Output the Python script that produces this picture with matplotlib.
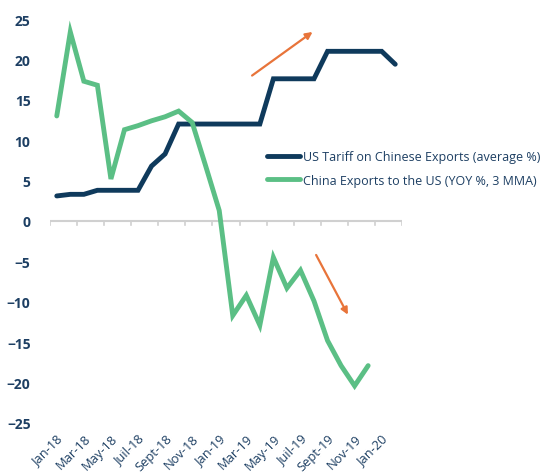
import matplotlib
matplotlib.use("Agg")
from matplotlib import pyplot as plt
import numpy as np

months = ["Jan-18", "Feb-18", "Mar-18", "Apr-18", "May-18", "Jun-18", "Juil-18", "Aug-18",
          "Sept-18", "Oct-18", "Nov-18", "Dec-18", "Jan-19", "Feb-19", "Mar-19", "Apr-19",
          "May-19", "Jun-19", "Juil-19", "Aug-19", "Sept-19", "Oct-19", "Nov-19", "Dec-19",
          "Jan-20", "Feb-20"]
tariff = [3.1, 3.3, 3.3, 3.8, 3.8, 3.8, 3.8, 6.8, 8.3, 12.0, 12.0, 12.0, 12.0, 12.0, 12.0, 12.0,
          17.6, 17.6, 17.6, 17.6, 21.0, 21.0, 21.0, 21.0, 21.0, 19.4]
exports = [13.0, 23.4, 17.3, 16.8, 5.2, 11.3, 11.8, 12.4, 12.9, 13.6, 12.2, 6.8, 1.3,
           -11.7, -9.2, -12.9, -4.5, -8.3, -6.1, -9.9, -14.8, -17.9, -20.4, -17.9]

navy = "#0f3a5c"
green = "#5bbf85"
orange = "#e8743a"
label_col = "#1d3f63"

plt.rcParams['font.family'] = ['Open Sans', 'DejaVu Sans']

fig = plt.figure(figsize=(5.41, 4.77), dpi=100)
ax = fig.add_axes([50 / 541, 1 - 424 / 477, 352 / 541, 404 / 477])

x = np.arange(len(months))
ax.plot(x, tariff, color=navy, lw=3.5, solid_capstyle='round', solid_joinstyle='miter',
        label="US Tariff on Chinese Exports (average %)")
ax.plot(x[:len(exports)], exports, color=green, lw=3.5, solid_capstyle='round',
        solid_joinstyle='miter', label="China Exports to the US (YOY %, 3 MMA)")

ax.set_xlim(-0.5, len(months) - 0.5)
ax.set_ylim(-25, 25)
ax.set_yticks(np.arange(-25, 26, 5))
ax.tick_params(axis='y', length=0, pad=14, labelsize=10, labelcolor=label_col)
for t in ax.get_yticklabels():
    t.set_fontweight('bold')

ax.set_xticks(x[::2])
ax.set_xticklabels(months[::2], rotation=45, ha='right', rotation_mode='anchor',
                   fontsize=9.3, color=label_col)
ax.tick_params(axis='x', which='major', length=0, pad=6)

for s in ax.spines.values():
    s.set_visible(False)
ax.axhline(0, color="#d0d0d0", lw=1.5, zorder=0)
# small tick marks below the zero line, between every second month
for tx in np.arange(-0.5, len(months), 2):
    ax.plot([tx, tx], [0, -0.5], color="#d0d0d0", lw=1.2, zorder=0)

ax.annotate("", xy=(19.06, 23.6), xytext=(14.26, 17.8),
            arrowprops=dict(arrowstyle="-|>", color=orange, lw=1.6, mutation_scale=10))
ax.annotate("", xy=(21.6, -11.9), xytext=(19.06, -3.9),
            arrowprops=dict(arrowstyle="-|>", color=orange, lw=1.6, mutation_scale=10))

leg = fig.legend(loc='upper left', bbox_to_anchor=(267 / 541, 1 - 151 / 477), frameon=False,
                 fontsize=9, handlelength=2.6, handletextpad=0.3, labelspacing=0.85,
                 borderaxespad=0, borderpad=0)
for t in leg.get_texts():
    t.set_color(label_col)

fig.savefig("out.png", dpi=100)
